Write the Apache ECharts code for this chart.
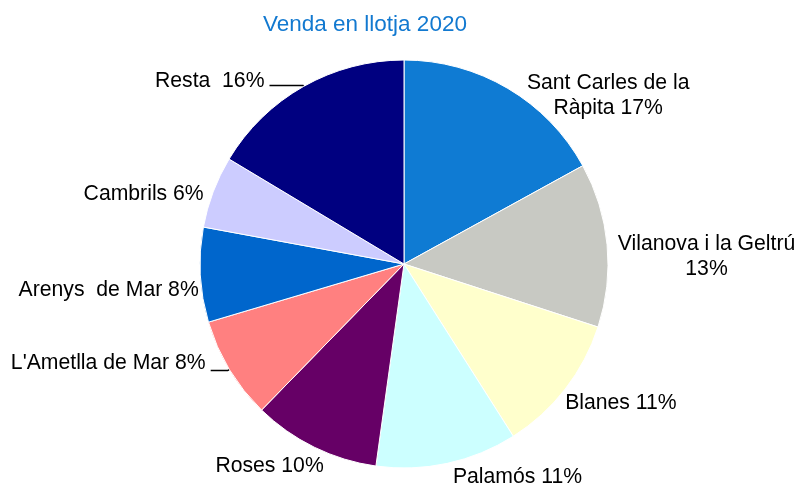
<!DOCTYPE html>
<html>
<head>
<meta charset="utf-8">
<script src="https://cdn.jsdelivr.net/npm/echarts@6/dist/echarts.min.js"></script>
<style>html,body{margin:0;padding:0;background:#fff}#c{width:796px;height:484px}</style>
</head>
<body>
<div id="c"></div>
<script>
var title = "Venda en llotja 2020";
var categories = ["Sant Carles de la|Ràpita", "Vilanova i la Geltrú|", "Blanes", "Palamós", "Roses", "L'Ametlla de Mar", "Arenys  de Mar", "Cambrils", "Resta "];
var values = [17.0, 13.0, 11.0, 11.2, 10.1, 8.1, 7.5, 5.7, 16.4];
var pctLabels = ["17%", "13%", "11%", "11%", "10%", "8%", "8%", "6%", "16%"];
var colors = ["#0f7bd3", "#c8c9c3", "#ffffcc", "#ccffff", "#660066", "#ff8080", "#0066cc", "#ccccff", "#000080"];
var withLine = [false, false, false, false, false, true, false, false, true];
// label style tweaks (offsets in px relative to default outside placement)
var labelOffsets = [[-2, 14], [0, 13], [-19, 10], [-13, 7], [30, 12], [0, 0], [16, 15], [15, 5], [0, 0]];
var lineLen = [[8, 12], [8, 12], [8, 12], [8, 12], [8, 12], [2, 17], [8, 12], [8, 12], [1, 33.5]];
var labelPad = [0, 0, 0, 0, 0, [0, 0, 15, 0], 0, 0, [0, 0, 8, 0]];

var data = categories.map(function (c, i) {
  return {
    name: c.replace('|', ' ').trim(),
    value: values[i],
    itemStyle: { color: colors[i] },
    label: { padding: labelPad[i] },
    labelLine: { show: withLine[i], length: lineLen[i][0], length2: lineLen[i][1] }
  };
});

var chart = echarts.init(document.getElementById('c'), null, { renderer: 'canvas' });
chart.setOption({
  animation: false,
  title: {
    text: title, left: 258, top: 8,
    textStyle: { color: '#1279d0', fontSize: 22.5, fontWeight: 'normal', fontFamily: 'Liberation Sans' }
  },
  series: [{
    type: 'pie',
    center: [404, 264],
    radius: 204,
    startAngle: 90,
    clockwise: true,
    data: data,
    itemStyle: { borderColor: '#ffffff', borderWidth: 1 },
    label: {
      position: 'outside',
      overflow: 'none',
      formatter: function (p) {
        var raw = categories[p.dataIndex];
        var pct = pctLabels[p.dataIndex];
        var parts = raw.split('|');
        if (parts.length > 1) {
          var l2 = parts[1] ? parts[1] + ' ' + pct : pct;
          return '{c|' + parts[0] + '}\n{c|' + l2 + '}';
        }
        return '{c|' + raw + ' ' + pct + '}';
      },
      rich: { c: { align: 'center', color: '#000', fontSize: 21.2, fontFamily: 'Liberation Sans', lineHeight: 25 } },
      color: '#000', fontSize: 21.2, fontFamily: 'Liberation Sans', lineHeight: 25
    },
    labelLayout: function (params) {
      var o = labelOffsets[params.dataIndex];
      if (!o[0] && !o[1]) return {};
      return { dx: o[0], dy: o[1] };
    },
    labelLine: { lineStyle: { color: '#000', width: 1.5 }, smooth: false }
  }]
});
</script>
</body>
</html>
